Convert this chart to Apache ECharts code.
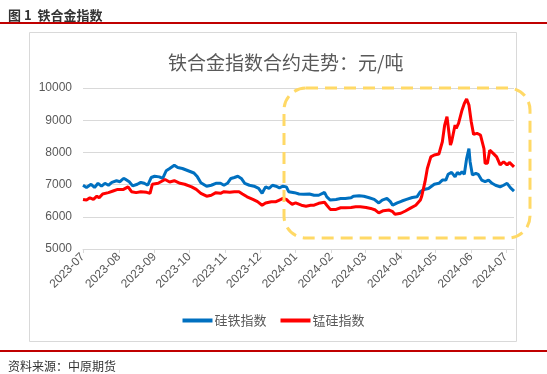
<!DOCTYPE html>
<html><head><meta charset="utf-8">
<script src="https://cdn.jsdelivr.net/npm/echarts@6/dist/echarts.min.js"></script>
<style>html,body{margin:0;padding:0;background:#fff;}#c{width:547px;height:374px;}</style>
</head><body><div id="c"></div>
<script>
const seriesNames = ['硅铁指数', '锰硅指数'];
const yTicks = [5000, 6000, 7000, 8000, 9000, 10000];

const siFeDates = ['2023-07-01','2023-07-04','2023-07-08','2023-07-11','2023-07-14','2023-07-17','2023-07-20','2023-07-23','2023-07-26','2023-07-30',
'2023-08-02','2023-08-05','2023-08-07','2023-08-10','2023-08-13','2023-08-17','2023-08-20','2023-08-23','2023-08-26','2023-08-29',
'2023-09-01','2023-09-05','2023-09-08','2023-09-11','2023-09-14','2023-09-18','2023-09-21','2023-09-25','2023-09-30',
'2023-10-05','2023-10-08','2023-10-11','2023-10-16','2023-10-20','2023-10-24','2023-10-28','2023-10-31',
'2023-11-03','2023-11-06','2023-11-09','2023-11-12','2023-11-15','2023-11-18','2023-11-22','2023-11-26','2023-11-30',
'2023-12-03','2023-12-06','2023-12-09','2023-12-12','2023-12-15','2023-12-18','2023-12-21','2023-12-24','2023-12-26','2023-12-31',
'2024-01-04','2024-01-08','2024-01-13','2024-01-17','2024-01-21','2024-01-26','2024-01-28','2024-01-31',
'2024-02-05','2024-02-09','2024-02-13','2024-02-18','2024-02-20','2024-02-25','2024-02-29',
'2024-03-04','2024-03-09','2024-03-13','2024-03-16','2024-03-20','2024-03-23','2024-03-25','2024-03-29',
'2024-04-02','2024-04-06','2024-04-11','2024-04-15','2024-04-18','2024-04-21','2024-04-25','2024-04-30',
'2024-05-04','2024-05-07','2024-05-10','2024-05-12','2024-05-15','2024-05-18','2024-05-20','2024-05-22','2024-05-24','2024-05-26','2024-05-28','2024-05-30','2024-05-31',
'2024-06-02','2024-06-05','2024-06-07','2024-06-10','2024-06-13','2024-06-16','2024-06-19','2024-06-22','2024-06-26','2024-06-29',
'2024-07-02','2024-07-05','2024-07-08'];
const siFeValues = [6980,6910,7010,6910,7040,6950,7040,6980,7070,7120,
7090,7190,7160,7090,6960,7010,7070,7040,6980,7220,
7260,7240,7190,7430,7500,7600,7530,7500,7430,
7360,7240,7060,6950,6980,7040,7040,6980,
7040,7190,7220,7260,7190,7040,6980,6950,6880,
6730,6930,6880,6980,6950,6900,6950,6930,6780,6750,
6710,6700,6710,6670,6670,6760,6620,6520,
6540,6570,6570,6590,6640,6650,6640,
6600,6540,6430,6520,6570,6470,6360,6430,
6490,6540,6600,6620,6780,6850,6880,7010,
7040,7140,7140,7320,7380,7240,7380,7320,7400,7320,7810,8120,7710,
7300,7350,7320,7140,7090,7140,7040,6980,6930,6980,
7040,6900,6800];

const mnSiDates = ['2023-07-01','2023-07-04','2023-07-07','2023-07-10','2023-07-13','2023-07-15','2023-07-18','2023-07-23','2023-07-27','2023-07-31',
'2023-08-05','2023-08-09','2023-08-12','2023-08-16','2023-08-20','2023-08-25','2023-08-28','2023-08-30',
'2023-09-04','2023-09-08','2023-09-10','2023-09-14','2023-09-18','2023-09-23','2023-09-27',
'2023-10-03','2023-10-07','2023-10-08','2023-10-11','2023-10-16','2023-10-20','2023-10-24','2023-10-28','2023-10-31',
'2023-11-05','2023-11-09','2023-11-13','2023-11-16','2023-11-20','2023-11-25','2023-11-29',
'2023-12-03','2023-12-06','2023-12-11','2023-12-15','2023-12-18','2023-12-21','2023-12-24','2023-12-26','2023-12-29',
'2024-01-01','2024-01-06','2024-01-10','2024-01-14','2024-01-17','2024-01-21','2024-01-26','2024-01-28','2024-01-31',
'2024-02-05','2024-02-09','2024-02-13','2024-02-18','2024-02-22','2024-02-26',
'2024-03-02','2024-03-06','2024-03-10','2024-03-13','2024-03-17','2024-03-22','2024-03-25','2024-03-27',
'2024-04-01','2024-04-05','2024-04-09','2024-04-14','2024-04-18','2024-04-19','2024-04-22','2024-04-24','2024-04-27','2024-04-30',
'2024-05-04','2024-05-07','2024-05-09','2024-05-11','2024-05-14','2024-05-15','2024-05-18','2024-05-19','2024-05-21','2024-05-24','2024-05-26','2024-05-28','2024-05-30',
'2024-06-01','2024-06-03','2024-06-06','2024-06-09','2024-06-12','2024-06-13','2024-06-15','2024-06-17','2024-06-20','2024-06-23','2024-06-26','2024-06-29',
'2024-07-02','2024-07-04','2024-07-08'];
const mnSiValues = [6540,6520,6590,6540,6640,6590,6710,6750,6800,6850,
6850,6930,6780,6750,6780,6760,6730,7010,
7040,7120,7160,7080,7120,7040,7010,
6930,6850,6810,6730,6640,6670,6750,6730,6780,
6760,6780,6780,6710,6620,6540,6470,
6360,6430,6470,6470,6520,6570,6540,6470,6390,
6430,6360,6330,6360,6360,6420,6450,6360,6230,
6230,6280,6280,6290,6310,6310,
6290,6260,6210,6120,6190,6210,6160,6080,
6110,6180,6260,6360,6520,6620,7090,7500,7860,7920,
7950,8330,8850,9110,8230,8330,8850,8750,8900,9310,9520,9660,9470,
8950,8560,8590,8540,8120,7660,7660,8070,7970,7860,7610,7710,
7610,7690,7550];

const toPairs = (d, v) => d.map((x, i) => [x, v[i]]);
const chart = echarts.init(document.getElementById('c'), null, {renderer: 'canvas'});
const DAY = 86400000;
chart.setOption({
  animation: false,
  backgroundColor: '#fff',
  textStyle: {fontFamily: 'Liberation Sans, "Noto Sans CJK SC", sans-serif'},
  title: [
    {text: '图 1  铁合金指数', left: 3, top: 4, textStyle: {fontSize: 13, fontWeight: 'bold', color: '#333', fontFamily: '"Noto Sans CJK SC"'}},
    {text: '铁合金指数合约走势：元/吨', left: 163, top: 48, textStyle: {fontSize: 19, fontWeight: 'normal', color: '#595959', fontFamily: '"Noto Sans CJK SC"'}},
    {text: '资料来源：中原期货', left: 3, top: 355, textStyle: {fontSize: 12, fontWeight: 'normal', color: '#333', fontFamily: '"Noto Sans CJK SC"'}}
  ],
  graphic: [
    {type: 'rect', z: -10, shape: {x: 0, y: 22, width: 547, height: 2}, style: {fill: '#C00000'}},
    {type: 'rect', z: -10, shape: {x: 0, y: 350, width: 547, height: 2}, style: {fill: '#C00000'}},
    {type: 'rect', z: -10, shape: {x: 29.5, y: 32.5, width: 487, height: 309}, style: {fill: 'none', stroke: '#D9D9D9', lineWidth: 1}},
    {type: 'rect', z: 100, shape: {x: 284, y: 88, width: 246, height: 150, r: 22}, style: {fill: 'none', stroke: '#FFD966', lineWidth: 3, lineDash: [12, 7]}}
  ],
  legend: {
    data: seriesNames,
    bottom: 42,
    left: 'center',
    itemWidth: 30,
    itemHeight: 4,
    itemGap: 14,
    icon: 'rect',
    textStyle: {fontSize: 13, color: '#595959', fontFamily: '"Noto Sans CJK SC"', padding: [0, 0, 0, -3]}
  },
  grid: {left: 83, right: 33, top: 88, bottom: 125, containLabel: false},
  xAxis: {
    type: 'time',
    min: '2023-07-01',
    max: '2024-07-08',
    splitNumber: 12,
    minInterval: 28 * DAY,
    maxInterval: 31 * DAY,
    axisLine: {lineStyle: {color: '#D9D9D9'}},
    axisTick: {show: true, lineStyle: {color: '#D9D9D9'}, length: 4},
    splitLine: {show: false},
    axisLabel: {rotate: 45, fontSize: 12, color: '#595959', formatter: '{yyyy}-{MM}', margin: 6, hideOverlap: false}
  },
  yAxis: {
    type: 'value',
    min: yTicks[0],
    max: yTicks[yTicks.length - 1],
    interval: 1000,
    axisLine: {show: false},
    axisTick: {show: false},
    splitLine: {lineStyle: {color: '#D9D9D9'}},
    axisLabel: {fontSize: 12, color: '#595959', margin: 11, formatter: v => String(v)}
  },
  series: [
    {name: seriesNames[0], type: 'line', data: toPairs(siFeDates, siFeValues), showSymbol: false, symbol: 'none',
     lineStyle: {width: 3, color: '#0070C0'}, itemStyle: {color: '#0070C0'}},
    {name: seriesNames[1], type: 'line', data: toPairs(mnSiDates, mnSiValues), showSymbol: false, symbol: 'none',
     lineStyle: {width: 3, color: '#FF0000'}, itemStyle: {color: '#FF0000'}}
  ]
});
</script>
</body></html>
